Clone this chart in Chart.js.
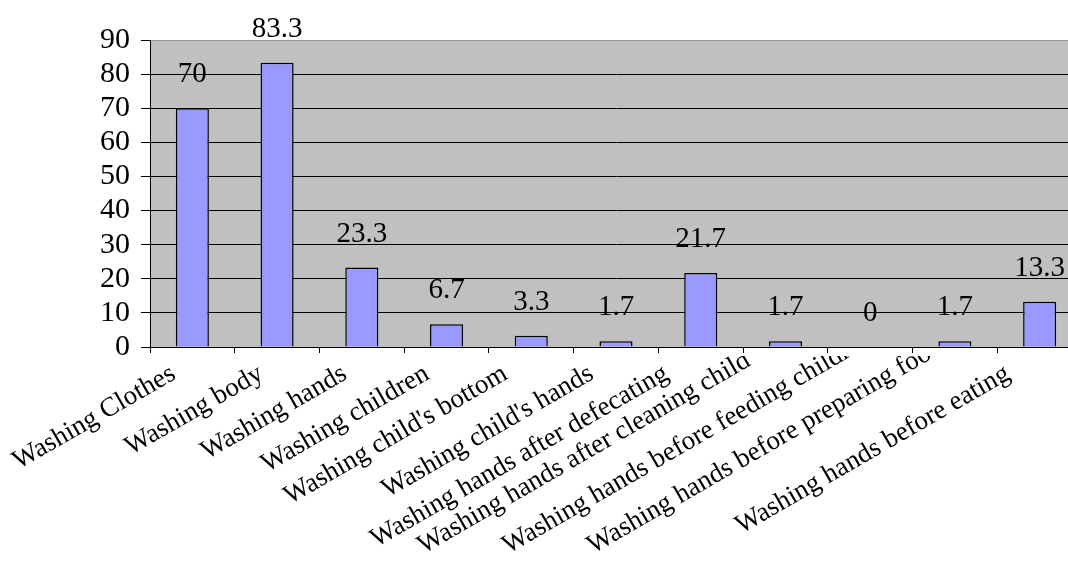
<!DOCTYPE html>
<html>
<head>
<meta charset="utf-8">
<script src="https://cdn.jsdelivr.net/npm/chart.js@4"></script>
<style>
html,body{margin:0;padding:0;background:#fff;overflow:hidden;width:1068px;height:569px;}
#wrap{position:absolute;left:0;top:0;width:1082px;height:569px;}
</style>
</head>
<body>
<div id="wrap"><canvas id="c"></canvas></div>
<script>
const categories = [
  "Washing Clothes",
  "Washing body",
  "Washing hands",
  "Washing children",
  "Washing child's bottom",
  "Washing child's hands",
  "Washing hands after defecating",
  "Washing hands after cleaning child",
  "Washing hands before feeding children",
  "Washing hands before preparing food",
  "Washing hands before eating"
];
const values = [70, 83.3, 23.3, 6.7, 3.3, 1.7, 21.7, 1.7, 0, 1.7, 13.3];
const yMin = 0, yMax = 90, yStep = 10;

const FONT = "'Liberation Serif', 'Times New Roman', serif";

const bgPlugin = {
  id: 'bg',
  beforeDraw(chart) {
    const {ctx, chartArea: a} = chart;
    ctx.save();
    ctx.fillStyle = '#C0C0C0';
    ctx.fillRect(a.left, a.top, a.right - a.left, a.bottom - a.top);
    ctx.restore();
  }
};
const valuePlugin = {
  id: 'vals',
  afterDatasetsDraw(chart) {
    const {ctx} = chart;
    const meta = chart.getDatasetMeta(0);
    ctx.save();
    ctx.font = "29px " + FONT;
    ctx.fillStyle = '#000';
    ctx.textAlign = 'center';
    ctx.textBaseline = 'alphabetic';
    meta.data.forEach((bar, i) => {
      ctx.fillText(String(values[i]), bar.x, bar.y - 26);
    });
    ctx.restore();
  }
};
const xLabelPlugin = {
  id: 'xlabels',
  afterDraw(chart) {
    const {ctx} = chart;
    const xs = chart.scales.x;
    const ang = Math.PI / 6, c = Math.cos(ang), s = Math.sin(ang);
    ctx.save();
    ctx.beginPath();
    ctx.rect(0, xs.top + 9, chart.width, chart.height);
    ctx.clip();
    ctx.font = "27px " + FONT;
    ctx.fillStyle = '#000';
    ctx.textAlign = 'left';
    ctx.textBaseline = 'alphabetic';
    const baseY = xs.top + 31, limitY = xs.top + 207;
    categories.forEach((lab, i) => {
      const px = xs.getPixelForValue(i);
      const L = ctx.measureText(lab).width;
      let endX = px + 3 - 0.1 * L;
      let sy = baseY + L * s;
      if (sy > limitY) {
        endX = px - 57;
        sy = limitY;
      }
      // x of the label line at baseY is endX; follow the line down to sy
      const sx = endX - (sy - baseY) / s * c;
      ctx.save();
      ctx.translate(sx, sy);
      ctx.rotate(-ang);
      ctx.fillText(lab, 0, 0);
      ctx.restore();
    });
    ctx.restore();
  }
};

new Chart(document.getElementById('c'), {
  type: 'bar',
  data: {
    labels: categories,
    datasets: [{
      data: values,
      backgroundColor: '#9999FF',
      borderColor: '#000',
      borderWidth: 1.5,
      barPercentage: 1,
      categoryPercentage: 0.39
    }]
  },
  options: {
    responsive: true,
    maintainAspectRatio: false,
    animation: false,
    layout: {padding: {top: 40, left: 0, right: 0, bottom: 0}},
    plugins: {legend: {display: false}, tooltip: {enabled: false}},
    scales: {
      x: {
        grid: {drawOnChartArea: false, drawTicks: true, tickLength: 6, color: '#000', offset: true},
        border: {color: '#000', width: 1},
        ticks: {display: false, autoSkip: false},
        afterFit(s) { s.height = 222; }
      },
      y: {
        min: yMin, max: yMax,
        grid: {color: (c) => c.tick && c.tick.value === yMax ? '#999' : '#000', tickColor: '#000', tickLength: 9, lineWidth: 1},
        border: {color: '#000', width: 1},
        ticks: {
          stepSize: yStep,
          autoSkip: false,
          font: {family: FONT, size: 30},
          color: '#000',
          padding: 11
        },
        afterFit(s) { s.width = 150; }
      }
    }
  },
  plugins: [bgPlugin, valuePlugin, xLabelPlugin]
});
</script>
</body>
</html>
